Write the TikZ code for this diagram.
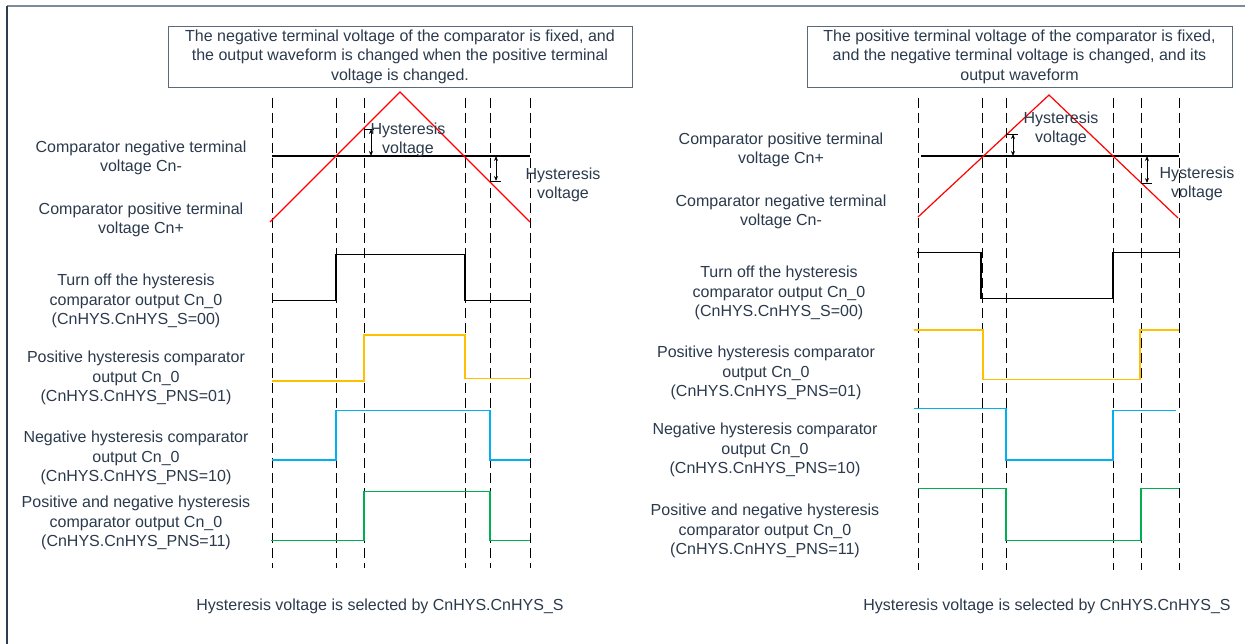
\documentclass[tikz,border=0pt]{standalone}
\usepackage{fontspec}
\setmainfont{Liberation Sans}
\usetikzlibrary{arrows.meta}
\definecolor{txt}{HTML}{2B3A4C}
\definecolor{frametop}{HTML}{7F8A99}
\definecolor{frameleft}{HTML}{2C3E50}
\definecolor{boxline}{HTML}{5A6A7A}
\definecolor{wyellow}{HTML}{FFC000}
\definecolor{wblue}{HTML}{00B0F0}
\definecolor{wgreen}{HTML}{00B050}
\definecolor{wred}{HTML}{FF0000}
\begin{document}
\begin{tikzpicture}[x=1pt,y=-1pt,
  lbl/.style={text=txt, align=center, font=\fontsize{16}{19.5}\selectfont, inner sep=0pt},
  boxlbl/.style={lbl, draw=boxline, line width=0.8pt, minimum height=61pt},
  gridline/.style={black, line width=0.9pt, dash pattern=on 10pt off 5pt},
  wave/.style={line width=1.4pt},
  ramp/.style={wred, line width=1.2pt},
  level/.style={black, line width=1.1pt},
  harrow/.style={black, line width=0.9pt, {Stealth[length=5pt,width=4pt]}-{Stealth[length=5pt,width=4pt]}},
  tick/.style={black, line width=0.9pt}]
\useasboundingbox (0,0) rectangle (1245,644);
\fill[white] (0,0) rectangle (1245,644);
% frame
\draw[frametop, line width=1.3pt] (7,6) -- (1245,6);
\draw[frameleft, line width=1.3pt] (7,6) -- (7,644);

% ================= LEFT PANEL =================
\node[boxlbl, minimum width=464pt] (lbox) at (400,56.5) {The negative terminal voltage of the comparator is fixed, and\\the output waveform is changed when the positive terminal\\voltage is changed.};
\foreach \x in {272,336,364,465,490,530} \draw[gridline] (\x,98) -- (\x,568);
\draw[level] (272,156) -- (530,156);
\draw[ramp] (270,222) -- (400,92) -- (530,222);
% hysteresis markers
\coordinate (lhu1) at (364,129); \coordinate (lhu2) at (374,129);
\draw[tick] (lhu1) -- (lhu2);
\coordinate (lha1) at (371,129); \coordinate (lha2) at (371,156);
\draw[harrow] (lha1) -- (lha2);
\coordinate (lhl1) at (490,181); \coordinate (lhl2) at (501,181);
\draw[tick] (lhl1) -- (lhl2);
\coordinate (lhb1) at (496,156); \coordinate (lhb2) at (496,181);
\draw[harrow] (lhb1) -- (lhb2);
\node[lbl] (lhy1) at (408,140) {Hysteresis\\voltage};
\node[lbl] (lhy2) at (563,185) {Hysteresis\\voltage};
% labels
\node[lbl] (ln1) at (141,158) {Comparator negative terminal\\voltage Cn-};
\node[lbl] (ln2) at (141,220) {Comparator positive terminal\\voltage Cn+};
\node[lbl] (ln3) at (136,301) {Turn off the hysteresis\\comparator output Cn\_0\\(CnHYS.CnHYS\_S=00)};
\node[lbl] (ln4) at (136,378) {Positive hysteresis comparator\\output Cn\_0\\(CnHYS.CnHYS\_PNS=01)};
\node[lbl] (ln5) at (136,458) {Negative hysteresis comparator\\output Cn\_0\\(CnHYS.CnHYS\_PNS=10)};
\node[lbl] (ln6) at (136,523) {Positive and negative hysteresis\\comparator output Cn\_0\\(CnHYS.CnHYS\_PNS=11)};
% waveforms
\draw[wave, black] (272,300.5) -- (336,300.5) -- (336,254.5) -- (465,254.5) -- (465,300.5) -- (530,300.5);
\draw[wave, wyellow] (272,381) -- (364,381) -- (364,335) -- (465,335) -- (465,378.5) -- (530,378.5);
\draw[wave, wblue] (272,460) -- (336,460) -- (336,410.5) -- (490,410.5) -- (490,460) -- (530,460);
\draw[wave, wgreen] (271,540.5) -- (364,540.5) -- (364,491.5) -- (490,491.5) -- (490,540.5) -- (530,540.5);
\node[lbl] (lbot) at (380,606) {Hysteresis voltage is selected by CnHYS.CnHYS\_S};

% ================= RIGHT PANEL =================
\node[boxlbl, minimum width=425pt] (rbox) at (1019.5,56.5) {The positive terminal voltage of the comparator is fixed,\\and the negative terminal voltage is changed, and its\\output waveform};
\foreach \x in {918,982,1006,1113,1141,1179} \draw[gridline] (\x,98) -- (\x,570);
\draw[level] (921,156) -- (1179,156);
\draw[ramp] (918,217) -- (1049,95) -- (1178,218);
\coordinate (rhu1) at (1006,134); \coordinate (rhu2) at (1018,134);
\draw[tick] (rhu1) -- (rhu2);
\coordinate (rha1) at (1013,134); \coordinate (rha2) at (1013,156);
\draw[harrow] (rha1) -- (rha2);
\coordinate (rhl1) at (1141,183); \coordinate (rhl2) at (1152,183);
\draw[tick] (rhl1) -- (rhl2);
\coordinate (rhb1) at (1147,156); \coordinate (rhb2) at (1147,183);
\draw[harrow] (rhb1) -- (rhb2);
\node[lbl] (rhy1) at (1061,129) {Hysteresis\\voltage};
\node[lbl] (rhy2) at (1197,184) {Hysteresis\\voltage};
\node[lbl] (rn1) at (781,150) {Comparator positive terminal\\voltage Cn+};
\node[lbl] (rn2) at (781,212) {Comparator negative terminal\\voltage Cn-};
\node[lbl] (rn3) at (779,293) {Turn off the hysteresis\\comparator output Cn\_0\\(CnHYS.CnHYS\_S=00)};
\node[lbl] (rn4) at (766,373) {Positive hysteresis comparator\\output Cn\_0\\(CnHYS.CnHYS\_PNS=01)};
\node[lbl] (rn5) at (765,450) {Negative hysteresis comparator\\output Cn\_0\\(CnHYS.CnHYS\_PNS=10)};
\node[lbl] (rn6) at (765,531) {Positive and negative hysteresis\\comparator output Cn\_0\\(CnHYS.CnHYS\_PNS=11)};
\draw[wave, black] (917,252.5) -- (981,252.5) -- (981,298.5) -- (1113,298.5) -- (1113,252.5) -- (1179,252.5);
\draw[wave, wyellow] (914,330) -- (983,330) -- (983,379.5) -- (1140,379.5) -- (1140,330) -- (1179,330);
\draw[wave, wblue] (914,408.5) -- (1006,408.5) -- (1006,460) -- (1113,460) -- (1113,410.5) -- (1176,410.5);
\draw[wave, wgreen] (918,488.5) -- (1006,488.5) -- (1006,540.5) -- (1141,540.5) -- (1141,488.5) -- (1179,488.5);
\node[lbl] (rbot) at (1047,606) {Hysteresis voltage is selected by CnHYS.CnHYS\_S};
\end{tikzpicture}
\end{document}
